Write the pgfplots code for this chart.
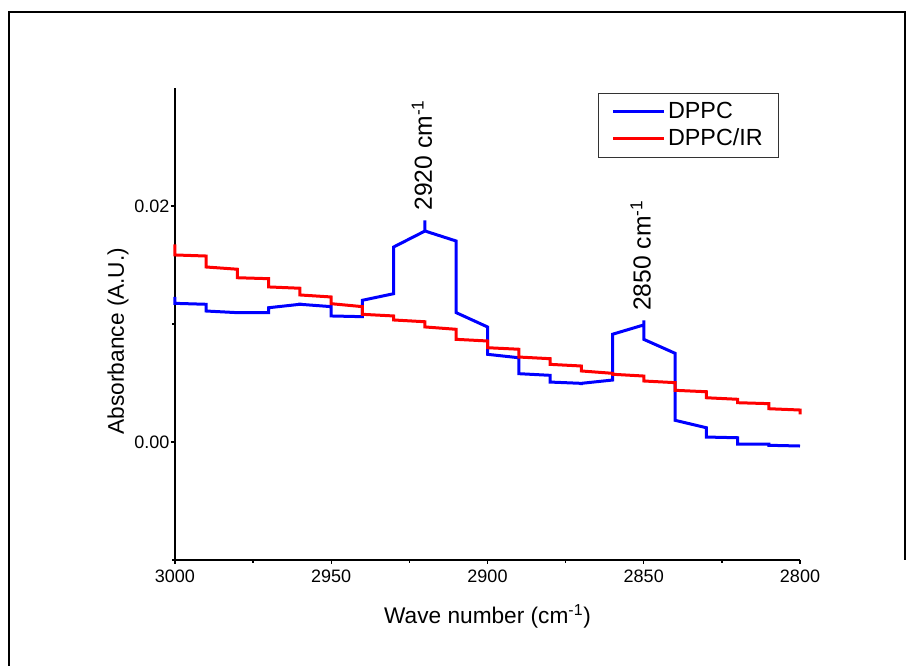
\documentclass[border=0pt]{standalone}
\usepackage{fontspec}
\setmainfont{Liberation Sans}
\usepackage{pgfplots}
\pgfplotsset{compat=1.18}

\begin{document}
\begin{tikzpicture}
% page: 916 x 666 px at 0.75pt per px
\path[use as bounding box] (0,0) rectangle (687pt,499.5pt);
\draw[line width=1.5pt] (6.75pt,0) -- (6.75pt,490.3pt) -- (678.75pt,490.3pt) -- (678.75pt,79.5pt);

\begin{axis}[
    at={(131.25pt,79.5pt)}, anchor=south west,
    scale only axis,
    width=468.75pt, height=354pt,
    x dir=reverse,
    xmin=2800, xmax=3000,
    ymin=-0.01, ymax=0.03,
    axis x line*=bottom, axis y line*=left,
    axis line style={line width=1.1pt, -},
    xtick={2800,2850,2900,2950,3000},
    minor xtick={2825,2875,2925,2975},
    ytick={0,0.02},
    minor ytick={-0.01,0.01},
    tick align=outside,
    major tick length=3pt, minor tick length=2pt,
    tick style={line width=1pt, black},
    scaled y ticks=false,
    /pgf/number format/assume math mode=true,
    /pgf/number format/set thousands separator={},
    yticklabel style={/pgf/number format/fixed, /pgf/number format/fixed zerofill, /pgf/number format/precision=2, inner sep=1pt},
    xticklabel style={inner sep=2pt, yshift=-2pt},
    tick label style={font=\fontsize{13.5}{16}\selectfont},
    xlabel={Wave number (cm\textsuperscript{-1})},
    ylabel={Absorbance (A.U.)},
    label style={font=\fontsize{17}{20}\selectfont},
    xlabel style={at={(axis description cs:0.5,-0.12)}, anchor=center},
    ylabel style={at={(axis description cs:-0.0912,0.464)}, anchor=center},
    legend style={at={(axis description cs:0.6768,0.990)}, anchor=north west,
        font=\fontsize{17.5}{20}\selectfont, draw=black!80, line width=0.6pt,
        inner xsep=10pt, inner ysep=5pt, row sep=2.25pt},
    legend cell align=left,
    legend image code/.code={\draw[#1, line width=2.25pt] (4pt,0pt) -- (42pt,0pt);},
    clip=false,
]
\addplot[blue, line width=2.25pt] coordinates {
(3000,0.01229) (3000,0.01175) (2990,0.01167) (2990,0.01110)
(2980,0.01096) (2970,0.01096) (2970,0.01138) (2960,0.01167)
(2960,0.01181) (2960,0.01167) (2950,0.01147) (2950,0.01068)
(2940,0.01062) (2940,0.01201) (2930,0.01257) (2930,0.01653)
(2920,0.01788) (2920,0.01879) (2920,0.01788) (2910,0.01703)
(2910,0.01096) (2900,0.00975) (2900,0.00743) (2890,0.00714)
(2890,0.00579) (2880,0.00565) (2880,0.00508) (2870,0.00497)
(2870,0.00483) (2870,0.00497) (2860,0.00525) (2860,0.00913)
(2850,0.00992) (2850,0.01031) (2850,0.00870) (2840,0.00752)
(2840,0.00184) (2830,0.00121) (2830,0.00042) (2820,0.00036)
(2820,-0.00019) (2810,-0.00019) (2810,-0.00028) (2800,-0.00034)
};
\addlegendentry{DPPC}
\addplot[red, line width=2.25pt] coordinates {
(3000,0.01675) (3000,0.01585) (2990,0.01576) (2990,0.01483)
(2980,0.01464) (2980,0.01392) (2970,0.01384) (2970,0.01314)
(2960,0.01303) (2960,0.01246) (2950,0.01229) (2950,0.01172)
(2940,0.01147) (2940,0.01082) (2930,0.01068) (2930,0.01034)
(2920,0.01019) (2920,0.00975) (2910,0.00955) (2910,0.00870)
(2900,0.00856) (2900,0.00799) (2890,0.00786) (2890,0.00720)
(2880,0.00706) (2880,0.00658) (2870,0.00644) (2870,0.00602)
(2860,0.00582) (2860,0.00574) (2850,0.00559) (2850,0.00517)
(2840,0.00503) (2840,0.00438) (2830,0.00426) (2830,0.00375)
(2820,0.00362) (2820,0.00333) (2810,0.00325) (2810,0.00282)
(2800,0.00271) (2800,0.00235)
};
\addlegendentry{DPPC/IR}
\node[rotate=90, anchor=west, inner sep=0pt, font=\fontsize{18.5}{22}\selectfont] at (2921,0.0196) {2920 cm\textsuperscript{-1}};
\node[rotate=90, anchor=west, inner sep=0pt, font=\fontsize{18.5}{22}\selectfont] at (2851,0.0111) {2850 cm\textsuperscript{-1}};
\end{axis}
\end{tikzpicture}
\end{document}
